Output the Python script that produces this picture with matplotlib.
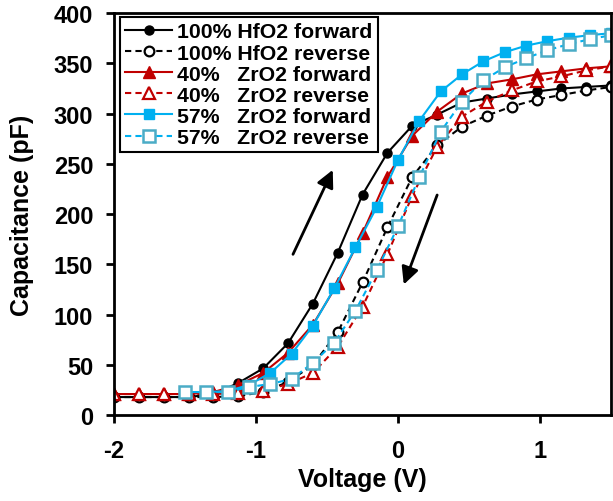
import matplotlib.pyplot as plt

plt.rcParams['font.family'] = ['Liberation Sans', 'DejaVu Sans']
plt.rcParams['font.weight'] = 'bold'
plt.rcParams['axes.unicode_minus'] = False

# sweep voltages (V)
v_40 = [-2.0, -1.825, -1.65, -1.475, -1.3, -1.125, -0.95, -0.775, -0.6, -0.425, -0.25,
        -0.075, 0.1, 0.275, 0.45, 0.625, 0.8, 0.975, 1.15, 1.325, 1.5]
v_57 = [-1.5, -1.35, -1.2, -1.05, -0.9, -0.75, -0.6, -0.45, -0.3, -0.15, 0.0,
        0.15, 0.3, 0.45, 0.6, 0.75, 0.9, 1.05, 1.2, 1.35, 1.5]

# capacitance (pF)
hfo2_fwd = [18, 18, 18, 18, 21, 32, 46.5, 71.5, 111, 161.5, 219.5,
            261, 288, 299, 311, 315, 319, 322, 325, 326.5, 328]
hfo2_rev = [18, 18, 18, 18, 18, 19, 23, 33, 50, 82.5, 132,
            187, 237, 268.5, 287, 298, 307, 314, 318.5, 323, 326.5]
zr40_fwd = [21, 21, 21, 21, 23, 30, 42, 62, 90, 131, 181,
            237, 278, 302, 320, 330, 334, 339, 342, 345, 347]
zr40_rev = [21, 21, 21, 21, 21, 22, 24, 31, 42, 68, 108,
            160, 218.5, 267, 297, 312, 323, 332, 337, 343, 347]
zr57_fwd = [23, 23, 24, 30, 42, 61, 89, 126, 167, 207, 254,
            293, 322, 339, 352, 361, 367.5, 372, 375.5, 378, 380]
zr57_rev = [23, 23, 23, 28, 31, 36, 52, 72, 104, 144, 188,
            237, 282, 312, 333, 346, 355, 363, 369, 374, 378]

labels = ['100% HfO2 forward', '100% HfO2 reverse',
          '40%   ZrO2 forward', '40%   ZrO2 reverse',
          '57%   ZrO2 forward', '57%   ZrO2 reverse']

RED = '#C00000'
BLUE = '#00B0F0'
TEAL = '#4BACC6'
dash = (0, (3, 2))

fig = plt.figure(figsize=(6.13, 5.02), dpi=100)
ax = fig.add_axes([0.186, 0.171, 0.811, 0.801])

ax.plot(v_40, hfo2_fwd, '-', color='black', lw=1.5, marker='o', ms=6.5, label=labels[0])
ax.plot(v_40, hfo2_rev, linestyle=dash, color='black', lw=1.5, marker='o', ms=7,
        mfc='white', mec='black', mew=1.6, label=labels[1])
ax.plot(v_40, zr40_fwd, '-', color=RED, lw=1.5, marker='^', ms=8.5, label=labels[2])
ax.plot(v_40, zr40_rev, linestyle=dash, color=RED, lw=1.5, marker='^', ms=8.5,
        mfc='white', mec=RED, mew=1.6, label=labels[3])
ax.plot(v_57, zr57_fwd, '-', color=BLUE, lw=1.5, marker='s', ms=7, label=labels[4])
ax.plot(v_57, zr57_rev, linestyle=dash, color=BLUE, lw=1.5, marker='s', ms=8.5,
        mfc='white', mec=TEAL, mew=1.8, label=labels[5])

# sweep direction arrows
arrow = dict(arrowstyle='-|>', color='black', lw=2, mutation_scale=26, shrinkA=0, shrinkB=0)
ax.annotate('', xy=(-0.46, 244), xytext=(-0.74, 160), arrowprops=arrow)
ax.annotate('', xy=(0.04, 130), xytext=(0.275, 219), arrowprops=arrow)

ax.set_xlim(-2, 1.5)
ax.set_ylim(0, 400)
ax.set_xticks([-2, -1, 0, 1])
ax.set_yticks(range(0, 401, 50))
ax.tick_params(direction='out', length=6, width=2, labelsize=17)
ax.tick_params(axis='x', pad=11)
ax.tick_params(axis='y', pad=9)
for sp in ax.spines.values():
    sp.set_linewidth(2)

ax.set_xlabel('Voltage (V)', fontsize=18, fontweight='bold', labelpad=4)
ax.set_ylabel('Capacitance (pF)', fontsize=18, fontweight='bold', labelpad=14)

leg = ax.legend(loc='upper left', bbox_to_anchor=(0.012, 0.99), fontsize=15.3,
                fancybox=False, edgecolor='black', framealpha=1,
                handlelength=2.2, handletextpad=0.25, labelspacing=0.1,
                borderpad=0.25, borderaxespad=0)
leg.get_frame().set_linewidth(1.5)

fig.savefig('out.png', dpi=100)
